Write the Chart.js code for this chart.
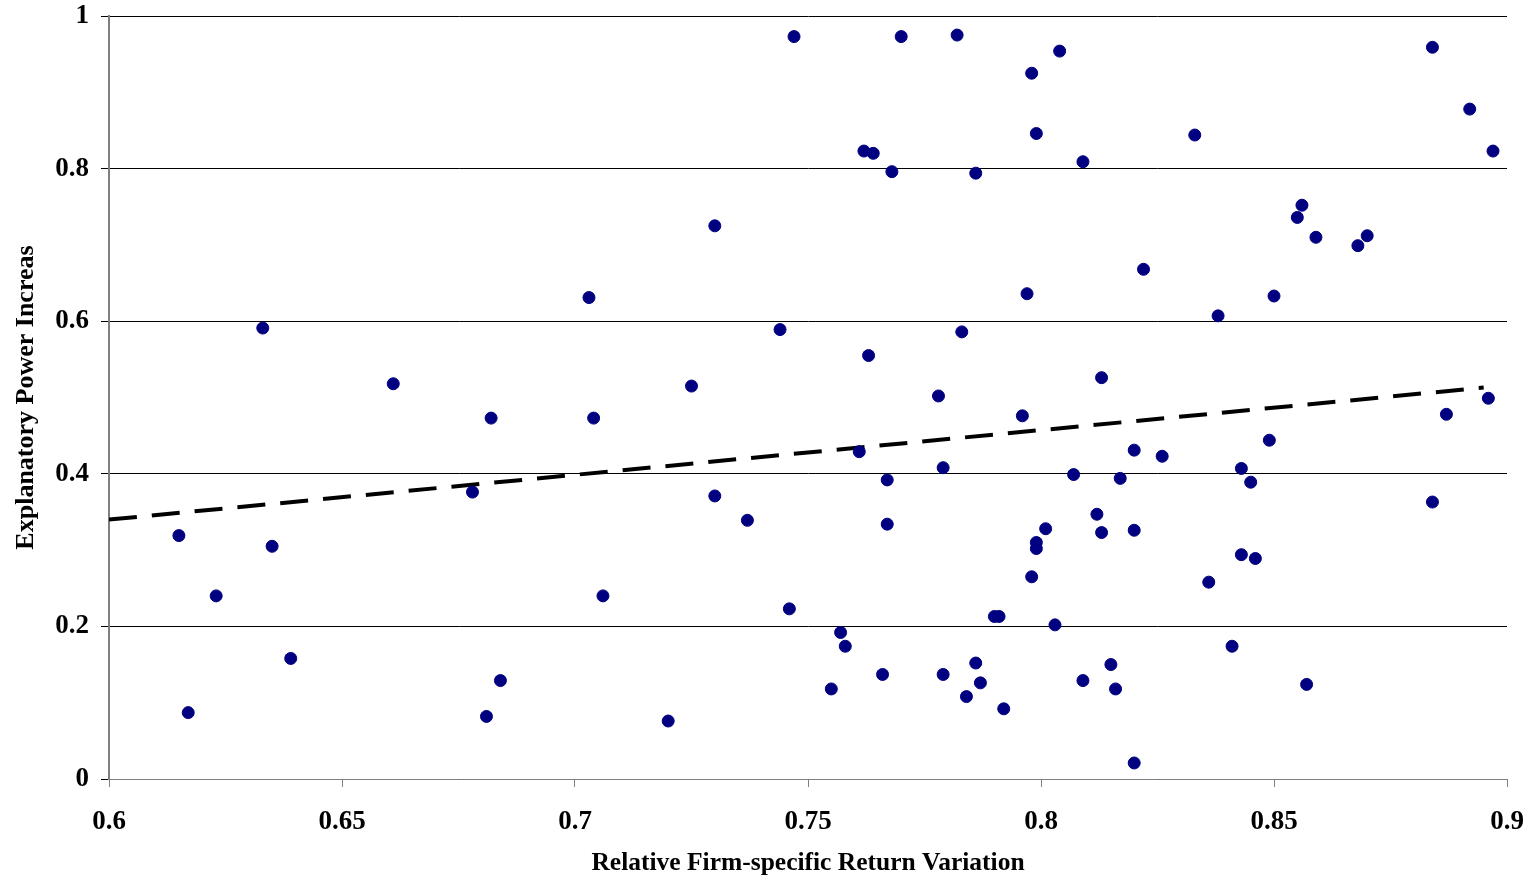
<!DOCTYPE html>
<html>
<head>
<meta charset="utf-8">
<script src="https://cdn.jsdelivr.net/npm/chart.js@4/dist/chart.umd.min.js"></script>
<style>
  html, body { margin: 0; padding: 0; background: #fff; }
  #wrap { width: 1529px; height: 879px; }
</style>
</head>
<body>
<div id="wrap"><canvas id="scatterChart" width="1529" height="879"></canvas></div>
<script>
const ctx = document.getElementById("scatterChart");

// relative firm-specific return variation (x)
const returnVariation = [
    0.615, 0.617, 0.623, 0.633, 0.635, 0.639, 0.661, 0.678, 0.681, 0.682,
    0.684, 0.703, 0.704, 0.706, 0.720, 0.725, 0.730, 0.730, 0.737, 0.744,
    0.746, 0.747, 0.755, 0.757, 0.758, 0.761, 0.762, 0.763, 0.764, 0.766,
    0.767, 0.767, 0.768, 0.770, 0.778, 0.779, 0.779, 0.782, 0.783, 0.784,
    0.786, 0.786, 0.787, 0.790, 0.791, 0.792, 0.796, 0.797, 0.798, 0.798,
    0.799, 0.799, 0.799, 0.801, 0.803, 0.804, 0.807, 0.809, 0.809, 0.812,
    0.813, 0.813, 0.815, 0.816, 0.817, 0.820, 0.820, 0.820, 0.822, 0.826,
    0.833, 0.836, 0.838, 0.841, 0.843, 0.843, 0.845, 0.846, 0.849, 0.850,
    0.855, 0.856, 0.857, 0.859, 0.868, 0.870, 0.884, 0.884, 0.887, 0.892,
    0.896, 0.897
];

// explanatory power increase (y)
const powerIncrease = [
    0.319, 0.087, 0.240, 0.591, 0.305, 0.158, 0.518, 0.376, 0.082, 0.473,
    0.129, 0.631, 0.473, 0.240, 0.076, 0.515, 0.371, 0.725, 0.339, 0.589,
    0.223, 0.973, 0.118, 0.192, 0.174, 0.429, 0.823, 0.555, 0.820, 0.137,
    0.334, 0.392, 0.796, 0.973, 0.502, 0.408, 0.137, 0.975, 0.586, 0.108,
    0.794, 0.152, 0.126, 0.213, 0.213, 0.092, 0.476, 0.636, 0.265, 0.925,
    0.846, 0.310, 0.302, 0.328, 0.202, 0.954, 0.399, 0.809, 0.129, 0.347,
    0.526, 0.323, 0.150, 0.118, 0.394, 0.431, 0.326, 0.021, 0.668, 0.423,
    0.844, 0.258, 0.607, 0.174, 0.407, 0.294, 0.389, 0.289, 0.444, 0.633,
    0.736, 0.752, 0.124, 0.710, 0.699, 0.712, 0.959, 0.363, 0.478, 0.878,
    0.499, 0.823
];

// linear trend line, end points
const trendX = [0.6, 0.895];
const trendY = [0.340, 0.513];

const xTicks = [0.6, 0.65, 0.7, 0.75, 0.8, 0.85, 0.9];
const yTicks = [0, 0.2, 0.4, 0.6, 0.8, 1];

const serif = "'Liberation Serif', 'Times New Roman', serif";

new Chart(ctx, {

    type: "scatter",

    data: {
        datasets: [
            {
                label: "Firms",
                data: returnVariation.map((x, i) => ({ x: x, y: powerIncrease[i] })),
                backgroundColor: "#000080",
                borderColor: "#000080",
                borderWidth: 1,
                pointRadius: 6,
                pointHoverRadius: 6
            },
            {
                type: "line",
                label: "Linear trend",
                data: trendX.map((x, i) => ({ x: x, y: trendY[i] })),
                borderColor: "#000000",
                borderWidth: 4,
                borderDash: [28, 15],
                pointRadius: 0,
                fill: false
            }
        ]
    },

    options: {
        responsive: false,
        animation: false,
        layout: {
            padding: 0
        },
        plugins: {
            legend: { display: false },
            tooltip: { enabled: false }
        },
        scales: {
            x: {
                type: "linear",
                min: 0.6,
                max: 0.9,
                afterBuildTicks: axis => { axis.ticks = xTicks.map(v => ({ value: v })); },
                afterFit: axis => {
                    axis.height = 100;
                    axis.paddingLeft = 0;
                    axis.paddingRight = 22;
                },
                ticks: {
                    color: "#000",
                    padding: 19,
                    maxRotation: 0,
                    font: { family: serif, size: 27, weight: "bold" },
                    callback: v => String(+v.toFixed(2))
                },
                grid: {
                    drawOnChartArea: false,
                    tickLength: 8,
                    tickColor: "#808080"
                },
                border: { color: "#808080", width: 1 },
                title: {
                    display: true,
                    text: "Relative Firm-specific Return Variation",
                    color: "#000",
                    font: { family: serif, size: 25.5, weight: "bold" },
                    padding: { top: 0, bottom: 0 }
                }
            },
            y: {
                min: 0,
                max: 1,
                afterBuildTicks: axis => { axis.ticks = yTicks.map(v => ({ value: v })); },
                afterFit: axis => {
                    axis.width = 109;
                    axis.paddingTop = 16;
                    axis.paddingBottom = 0;
                },
                ticks: {
                    color: "#000",
                    padding: 12,
                    font: { family: serif, size: 27, weight: "bold" },
                    callback: v => String(+v.toFixed(1))
                },
                grid: {
                    color: "#000000",
                    lineWidth: 1,
                    tickLength: 8,
                    tickColor: "#000000"
                },
                border: { color: "#808080", width: 2 },
                title: {
                    display: true,
                    text: "Explanatory Power Increas",
                    color: "#000",
                    font: { family: serif, size: 26, weight: "bold" },
                    padding: { top: 11, bottom: 0 }
                }
            }
        }
    }

});
</script>
</body>
</html>
